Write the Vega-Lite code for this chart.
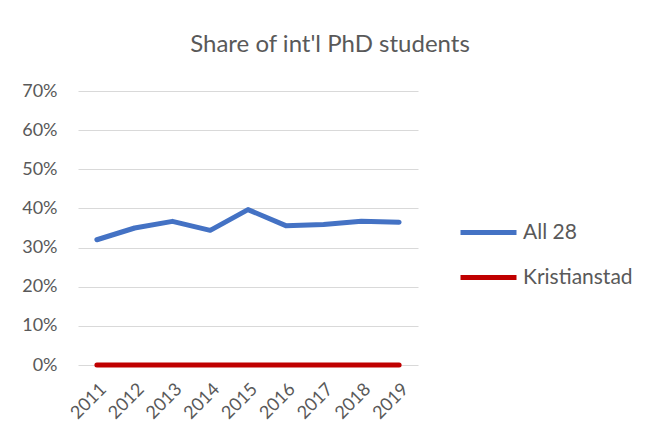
{
  "$schema": "https://vega.github.io/schema/vega-lite/v6.json",
  "width": 340,
  "height": 274,
  "autosize": "none",
  "padding": {"left": 78, "top": 91, "right": 237, "bottom": 80},
  "background": "white",
  "title": {
    "text": "Share of int'l PhD students",
    "anchor": "middle",
    "dx": 82,
    "offset": 25,
    "fontSize": 24,
    "font": "Lato",
    "fontWeight": "normal",
    "color": "#595959"
  },
  "data": {
    "values": [
      {"year": "2011", "series": "All 28", "share": 0.320},
      {"year": "2012", "series": "All 28", "share": 0.350},
      {"year": "2013", "series": "All 28", "share": 0.367},
      {"year": "2014", "series": "All 28", "share": 0.344},
      {"year": "2015", "series": "All 28", "share": 0.397},
      {"year": "2016", "series": "All 28", "share": 0.356},
      {"year": "2017", "series": "All 28", "share": 0.359},
      {"year": "2018", "series": "All 28", "share": 0.367},
      {"year": "2019", "series": "All 28", "share": 0.365},
      {"year": "2011", "series": "Kristianstad", "share": 0},
      {"year": "2012", "series": "Kristianstad", "share": 0},
      {"year": "2013", "series": "Kristianstad", "share": 0},
      {"year": "2014", "series": "Kristianstad", "share": 0},
      {"year": "2015", "series": "Kristianstad", "share": 0},
      {"year": "2016", "series": "Kristianstad", "share": 0},
      {"year": "2017", "series": "Kristianstad", "share": 0},
      {"year": "2018", "series": "Kristianstad", "share": 0},
      {"year": "2019", "series": "Kristianstad", "share": 0}
    ]
  },
  "mark": {"type": "line", "strokeWidth": 5, "strokeCap": "round", "strokeJoin": "round"},
  "encoding": {
    "x": {
      "field": "year",
      "type": "ordinal",
      "scale": {"type": "point", "padding": 0.5},
      "axis": {
        "title": null,
        "labelAngle": -45,
        "labelFontSize": 18,
        "labelFont": "Lato",
        "labelColor": "#595959",
        "ticks": false,
        "domain": false,
        "grid": false,
        "labelPadding": 15
      }
    },
    "y": {
      "field": "share",
      "type": "quantitative",
      "scale": {"domain": [0, 0.7], "nice": false},
      "axis": {
        "title": null,
        "format": ".0%",
        "values": [0, 0.1, 0.2, 0.3, 0.4, 0.5, 0.6, 0.7],
        "labelFontSize": 18,
        "labelFont": "Lato",
        "labelColor": "#595959",
        "ticks": false,
        "domain": false,
        "gridColor": "#D9D9D9",
        "gridWidth": 1,
        "labelPadding": 21
      }
    },
    "color": {
      "field": "series",
      "type": "nominal",
      "scale": {"domain": ["All 28", "Kristianstad"], "range": ["#4472C4", "#C00000"]},
      "legend": {
        "title": null,
        "orient": "none",
        "legendX": 380,
        "legendY": 111,
        "symbolType": "stroke",
        "symbolSize": 3136,
        "symbolStrokeWidth": 5,
        "labelFontSize": 21,
        "labelFont": "Lato",
        "labelColor": "#595959",
        "labelOffset": 4,
        "rowPadding": 4
      }
    }
  },
  "config": {"view": {"stroke": null}}
}
